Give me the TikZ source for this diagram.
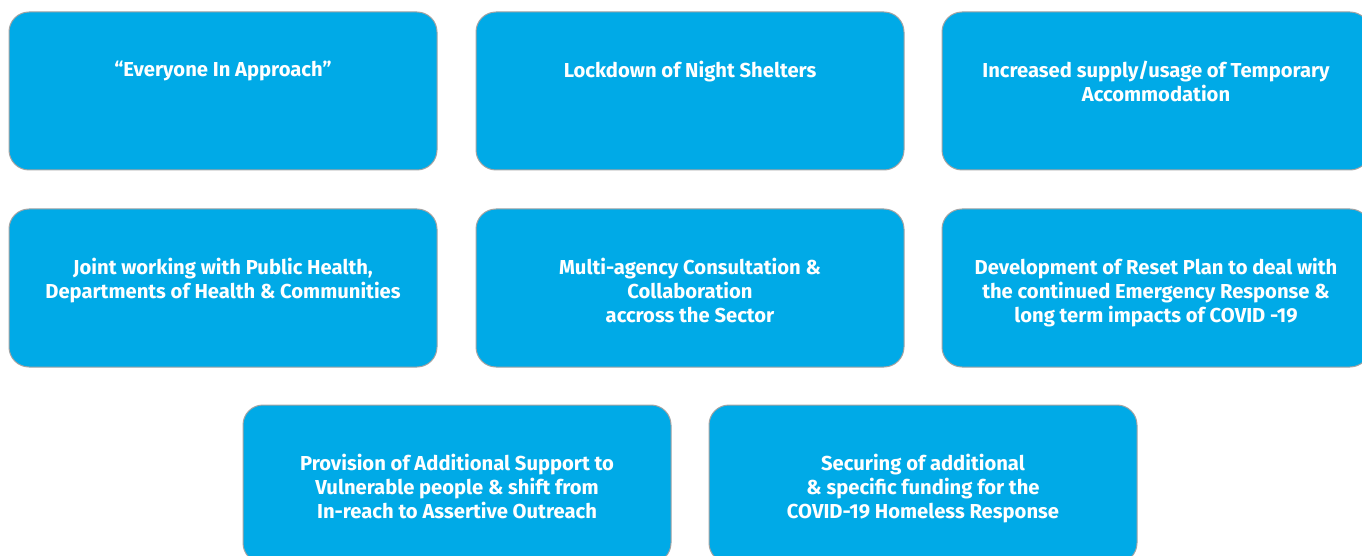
\documentclass[tikz,border=0pt]{standalone}
\usepackage{fontspec}
\setmainfont{Fira Sans}
\usetikzlibrary{positioning}
\definecolor{boxFill}{HTML}{00AAE7}
\definecolor{boxLine}{HTML}{A3A3A3}
\tikzset{
	box/.style={draw=boxLine, line width=0.5pt, fill=boxFill, rounded corners=10pt,
		minimum width=214pt, minimum height=79pt, inner sep=0, outer sep=0},
	txt/.style={text=white, font=\bfseries\fontsize{10.1}{12}\selectfont, align=center,
		inner sep=0, outer sep=0}
}

\begin{document}
\begin{tikzpicture}[x=0.5pt, y=-0.5pt]
\useasboundingbox (0,0) rectangle (1362,556);
\clip (0,0) rectangle (1362,556);
% first row
\node[box] (b1) at (223, 91) {};
\node[box] (b2) at (690, 91) {};
\node[box] (b3) at (1156, 91) {};
% second row
\node[box] (b4) at (223, 288) {};
\node[box] (b5) at (690, 288) {};
\node[box] (b6) at (1156, 288) {};
% third row, shifted in by half a box
\node[box] (b7) at (457, 484) {};
\node[box] (b8) at (923, 484) {};
% texts hang from the top of each box
\node[txt, below=24.7pt of b1.north] (b1_t) {“Everyone In Approach”};
\node[txt, below=24.7pt of b2.north] (b2_t) {Lockdown of Night Shelters};
\node[txt, below=24.7pt of b3.north] (b3_t) {Increased supply/usage of Temporary\\ Accommodation};
\node[txt, below=24.7pt of b4.north] (b4_t) {Joint working with Public Health,\\ Departments of Health \& Communities};
\node[txt, below=24.7pt of b5.north] (b5_t) {Multi-agency Consultation \&\\ Collaboration\\ accross the Sector};
\node[txt, below=24.7pt of b6.north] (b6_t) {Development of Reset Plan to deal with\\ the continued Emergency Response \&\\ long term impacts of COVID -19};
\node[txt, below=24.7pt of b7.north] (b7_t) {Provision of Additional Support to\\ Vulnerable people \& shift from\\ In-reach to Assertive Outreach};
\node[txt, below=24.7pt of b8.north] (b8_t) {Securing of additional\\ \& specific funding for the\\ COVID-19 Homeless Response};
\end{tikzpicture}
\end{document}
